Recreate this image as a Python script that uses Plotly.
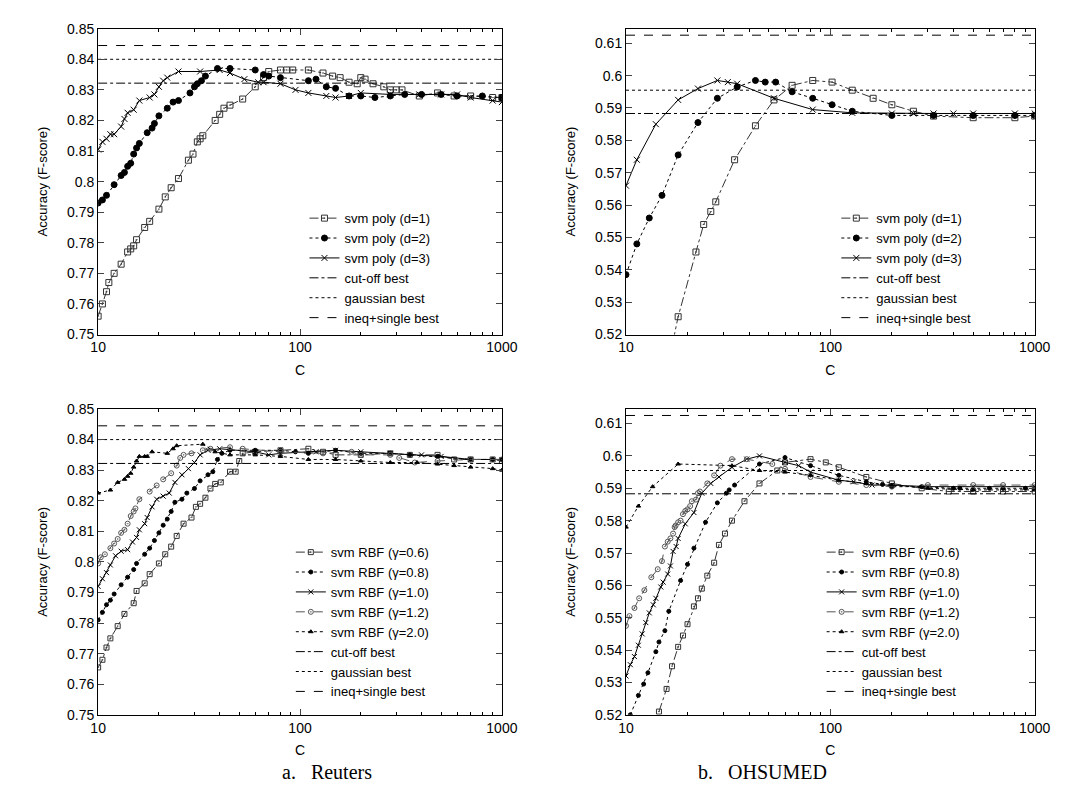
import plotly.graph_objects as go

# ---------- data: Reuters, polynomial kernel ----------
r_d1_c = [10, 10.5, 11, 11.3, 12, 13, 14, 14.5, 15, 15.5, 17, 18, 20, 21.5, 23, 25, 28, 29.5, 31, 32, 33, 38, 40, 42, 45, 52, 60, 66, 70, 80, 86, 92, 110, 130, 145, 158, 175, 192, 200, 210, 230, 260, 280, 300, 320, 390, 480, 580, 700, 900, 1000]
r_d1_f = [0.756, 0.760, 0.764, 0.767, 0.770, 0.773, 0.777, 0.778, 0.779, 0.781, 0.785, 0.787, 0.791, 0.795, 0.798, 0.801, 0.807, 0.809, 0.813, 0.814, 0.815, 0.820, 0.822, 0.824, 0.825, 0.827, 0.831, 0.834, 0.836, 0.8365, 0.8365, 0.8365, 0.8365, 0.8355, 0.8345, 0.834, 0.8325, 0.832, 0.834, 0.8335, 0.832, 0.831, 0.830, 0.830, 0.830, 0.828, 0.829, 0.828, 0.828, 0.8275, 0.8275]
r_d2_c = [10, 10.5, 11, 12, 13, 13.5, 14, 14.5, 15, 15.5, 16, 17.5, 18.5, 19, 20, 22, 23.5, 25, 28.5, 30, 31, 32.5, 34, 39, 45, 60, 66, 70, 80, 110, 120, 135, 150, 175, 200, 235, 280, 330, 400, 500, 600, 800, 1000]
r_d2_f = [0.793, 0.794, 0.7955, 0.799, 0.802, 0.803, 0.805, 0.806, 0.809, 0.811, 0.8125, 0.816, 0.8175, 0.819, 0.8215, 0.824, 0.826, 0.8265, 0.829, 0.831, 0.832, 0.833, 0.8345, 0.837, 0.837, 0.8365, 0.835, 0.8345, 0.834, 0.833, 0.8335, 0.831, 0.8305, 0.828, 0.828, 0.8275, 0.828, 0.8285, 0.8285, 0.8285, 0.828, 0.828, 0.8275]
r_d3_c = [10, 10.5, 11, 11.5, 12, 13, 13.5, 14, 15, 16, 18, 19, 20, 21, 22, 25, 32, 40, 45, 53, 62, 66, 80, 95, 110, 135, 150, 175, 200, 280, 390, 500, 600, 700, 900, 1000]
r_d3_f = [0.8105, 0.813, 0.814, 0.8155, 0.8155, 0.818, 0.8205, 0.8225, 0.8235, 0.8265, 0.8275, 0.8285, 0.831, 0.833, 0.834, 0.836, 0.836, 0.8365, 0.8355, 0.8335, 0.8325, 0.8325, 0.832, 0.830, 0.829, 0.828, 0.8275, 0.828, 0.829, 0.8285, 0.8285, 0.8285, 0.8285, 0.8275, 0.8265, 0.826]

# ---------- data: OHSUMED, polynomial kernel ----------
o_d1_c = [17, 18, 22, 24, 26, 27.5, 34, 43, 53, 65, 82, 102, 128, 162, 200, 255, 320, 500, 800, 1000]
o_d1_f = [0.518, 0.5255, 0.5455, 0.554, 0.558, 0.561, 0.574, 0.5845, 0.5925, 0.597, 0.5985, 0.598, 0.5955, 0.593, 0.591, 0.589, 0.5875, 0.587, 0.587, 0.5875]
o_d2_c = [10, 11.3, 13, 15, 18, 22.5, 28, 35, 43, 48, 54, 65, 82, 102, 128, 200, 320, 500, 800, 1000]
o_d2_f = [0.5385, 0.548, 0.556, 0.563, 0.5755, 0.5855, 0.593, 0.5965, 0.5985, 0.598, 0.598, 0.595, 0.593, 0.591, 0.589, 0.5877, 0.5877, 0.5877, 0.5877, 0.5877]
o_d3_c = [10, 11.3, 14, 18, 22.5, 28, 31.5, 35, 53, 82, 128, 200, 255, 320, 400, 500, 800, 1000]
o_d3_f = [0.566, 0.574, 0.585, 0.5925, 0.596, 0.5985, 0.598, 0.5975, 0.593, 0.5895, 0.5885, 0.5883, 0.5883, 0.5883, 0.5883, 0.5883, 0.5883, 0.5883]

# ---------- data: Reuters, RBF kernel ----------
r_g06_c = [10, 10.5, 11, 11.5, 12.5, 13.5, 15, 15.5, 17, 18, 20, 21.5, 23, 24.5, 26.5, 29, 30.5, 32, 34, 36, 38, 40.5, 45, 48, 50, 52, 60, 80, 110, 130, 150, 200, 280, 350, 480, 580, 700, 900, 1000]
r_g06_f = [0.7655, 0.768, 0.772, 0.775, 0.779, 0.783, 0.7865, 0.7905, 0.793, 0.796, 0.7995, 0.8025, 0.805, 0.8085, 0.8125, 0.8145, 0.818, 0.819, 0.821, 0.824, 0.8255, 0.826, 0.8295, 0.8295, 0.833, 0.8355, 0.836, 0.8365, 0.837, 0.836, 0.835, 0.835, 0.8355, 0.835, 0.835, 0.8335, 0.8335, 0.8335, 0.833]
r_g08_c = [10, 10.5, 11, 11.5, 12, 13, 14, 15, 15.5, 17, 18, 19, 20, 21, 22, 23, 24, 26, 27.5, 30, 32, 35, 37, 39, 41, 45, 60, 80, 95, 110, 150, 200, 280, 350, 480, 700, 900, 1000]
r_g08_f = [0.781, 0.7835, 0.786, 0.7875, 0.7895, 0.7925, 0.795, 0.7975, 0.7995, 0.8025, 0.8045, 0.807, 0.8095, 0.812, 0.814, 0.8165, 0.8195, 0.8205, 0.8225, 0.824, 0.8265, 0.8285, 0.8295, 0.8335, 0.8355, 0.8365, 0.8365, 0.8365, 0.836, 0.8355, 0.8365, 0.8355, 0.8355, 0.835, 0.8345, 0.8335, 0.8335, 0.8335]
r_g10_c = [10, 10.5, 11, 11.5, 12.2, 13, 14, 14.8, 15.5, 16, 17, 17.5, 18.5, 19.5, 21, 22.5, 24, 26, 28, 30, 32, 35, 40, 60, 70, 80, 120, 150, 200, 280, 400, 500, 700, 1000]
r_g10_f = [0.792, 0.7945, 0.7965, 0.799, 0.802, 0.8035, 0.804, 0.8065, 0.808, 0.8105, 0.8125, 0.8145, 0.818, 0.8205, 0.8215, 0.8225, 0.826, 0.8285, 0.8305, 0.8325, 0.835, 0.8365, 0.837, 0.836, 0.835, 0.8355, 0.836, 0.8365, 0.836, 0.8355, 0.835, 0.8345, 0.8335, 0.8335]
r_g12_c = [10, 10.3, 10.8, 11.5, 12, 12.5, 13, 13.5, 14, 14.5, 15, 15.3, 16, 18, 19.5, 21, 23, 24.5, 25.5, 26.5, 29, 33, 36, 45, 52, 80, 130, 180, 200, 280, 310, 370, 480, 700, 1000]
r_g12_f = [0.7995, 0.8015, 0.8025, 0.8045, 0.806, 0.8075, 0.8095, 0.8105, 0.8125, 0.815, 0.8165, 0.8175, 0.8205, 0.823, 0.825, 0.827, 0.829, 0.8315, 0.834, 0.835, 0.8355, 0.8365, 0.837, 0.8375, 0.837, 0.836, 0.8355, 0.836, 0.835, 0.835, 0.834, 0.8325, 0.833, 0.8335, 0.8335]
r_g20_c = [10, 11.5, 12.5, 13.5, 14, 14.5, 15, 15.5, 16, 17, 17.5, 18.5, 22, 23.5, 24.5, 33, 38, 45, 60, 80, 110, 150, 200, 280, 380, 480, 580, 700, 900, 1000]
r_g20_f = [0.8225, 0.8235, 0.826, 0.827, 0.828, 0.829, 0.831, 0.833, 0.8345, 0.8345, 0.8345, 0.836, 0.8355, 0.837, 0.838, 0.8385, 0.836, 0.835, 0.835, 0.8345, 0.8335, 0.8335, 0.833, 0.8325, 0.8325, 0.832, 0.8315, 0.831, 0.8305, 0.830]

# ---------- data: OHSUMED, RBF kernel ----------
o_g06_c = [14.5, 15.8, 16.8, 18, 19, 20, 21.5, 22.5, 23.5, 25, 27, 28.5, 30.5, 33, 38, 45, 55, 60, 80, 95, 110, 150, 200, 280, 380, 500, 700, 1000]
o_g06_f = [0.521, 0.528, 0.535, 0.541, 0.5445, 0.548, 0.5535, 0.556, 0.559, 0.563, 0.567, 0.5725, 0.576, 0.580, 0.586, 0.5915, 0.5955, 0.598, 0.599, 0.598, 0.5965, 0.5935, 0.5915, 0.590, 0.589, 0.589, 0.589, 0.589]
o_g08_c = [10.5, 11.5, 12.2, 12.8, 14, 14.5, 15.5, 16.2, 18.5, 20, 21.5, 24.5, 28, 31, 32, 34, 45, 60, 80, 110, 150, 180, 200, 280, 400, 430, 600, 700, 900, 1000]
o_g08_f = [0.52, 0.526, 0.5295, 0.533, 0.5395, 0.5425, 0.546, 0.552, 0.5615, 0.5665, 0.5715, 0.5795, 0.5855, 0.5885, 0.5895, 0.591, 0.5975, 0.5995, 0.597, 0.594, 0.592, 0.5912, 0.5905, 0.5905, 0.590, 0.590, 0.590, 0.590, 0.590, 0.590]
o_g10_c = [10, 10.5, 11, 11.5, 12, 12.5, 13, 13.6, 14, 14.8, 15.2, 16, 16.5, 17, 17.6, 18, 19.5, 21.5, 23.5, 26, 28.5, 33, 39, 45, 60, 70, 80, 110, 130, 160, 200, 300, 500, 700, 1000]
o_g10_f = [0.532, 0.5355, 0.538, 0.5415, 0.545, 0.5485, 0.5515, 0.554, 0.556, 0.5595, 0.561, 0.5635, 0.566, 0.5705, 0.572, 0.5745, 0.579, 0.5825, 0.5885, 0.5915, 0.5935, 0.5965, 0.599, 0.600, 0.598, 0.597, 0.595, 0.5925, 0.592, 0.591, 0.591, 0.5905, 0.5905, 0.5905, 0.5905]
o_g12_c = [10, 10.4, 11, 11.6, 12.3, 13.3, 14.3, 15, 15.5, 16, 16.5, 17, 17.3, 17.5, 18, 18.5, 19, 19.5, 20, 20.6, 21, 22, 22.5, 23, 25, 27, 29, 33, 39, 52, 60, 80, 110, 150, 200, 300, 500, 700, 1000]
o_g12_f = [0.5475, 0.5505, 0.553, 0.556, 0.5585, 0.5625, 0.565, 0.5675, 0.572, 0.5735, 0.5745, 0.576, 0.578, 0.5785, 0.5795, 0.580, 0.582, 0.583, 0.5835, 0.5845, 0.586, 0.5865, 0.5885, 0.589, 0.5915, 0.594, 0.597, 0.599, 0.599, 0.5975, 0.596, 0.5935, 0.592, 0.591, 0.5905, 0.591, 0.591, 0.591, 0.591]
o_g20_c = [10, 11.5, 13.5, 18, 33, 45, 60, 80, 110, 150, 200, 300, 500, 1000]
o_g20_f = [0.578, 0.5845, 0.5905, 0.5975, 0.597, 0.5955, 0.595, 0.594, 0.5925, 0.5915, 0.591, 0.590, 0.5895, 0.5895]

# reference lines: cut-off, gaussian, ineq+single
reuters_best = [0.8322, 0.8400, 0.8445]
ohsumed_best = [0.5883, 0.5955, 0.6125]
best_names = ["cut-off best", "gaussian best", "ineq+single best"]
best_dash = ["dashdot", "dot", "dash"]

c_range = [10, 1000]

FONT = "Liberation Sans, Arial, sans-serif"
fig = go.Figure()

panels = [
    # axis suffix, legend id, series list, best values
    ("", "legend", [
        ("svm poly (d=1)", r_d1_c, r_d1_f, "dashdot", "square-open-dot", 6, "#333"),
        ("svm poly (d=2)", r_d2_c, r_d2_f, "dot", "circle", 6, "#000"),
        ("svm poly (d=3)", r_d3_c, r_d3_f, "solid", "x-thin-open", 6, "#000"),
    ], reuters_best),
    ("2", "legend2", [
        ("svm poly (d=1)", o_d1_c, o_d1_f, "dashdot", "square-open-dot", 6, "#333"),
        ("svm poly (d=2)", o_d2_c, o_d2_f, "dot", "circle", 6, "#000"),
        ("svm poly (d=3)", o_d3_c, o_d3_f, "solid", "x-thin-open", 6, "#000"),
    ], ohsumed_best),
    ("3", "legend3", [
        ("svm RBF (γ=0.6)", r_g06_c, r_g06_f, "dashdot", "square-open-dot", 5, "#333"),
        ("svm RBF (γ=0.8)", r_g08_c, r_g08_f, "dot", "circle", 4, "#000"),
        ("svm RBF (γ=1.0)", r_g10_c, r_g10_f, "solid", "x-thin-open", 5, "#000"),
        ("svm RBF (γ=1.2)", r_g12_c, r_g12_f, "dash", "circle-open-dot", 5, "#555"),
        ("svm RBF (γ=2.0)", r_g20_c, r_g20_f, "dot", "triangle-up", 4, "#000"),
    ], reuters_best),
    ("4", "legend4", [
        ("svm RBF (γ=0.6)", o_g06_c, o_g06_f, "dashdot", "square-open-dot", 5, "#333"),
        ("svm RBF (γ=0.8)", o_g08_c, o_g08_f, "dot", "circle", 4, "#000"),
        ("svm RBF (γ=1.0)", o_g10_c, o_g10_f, "solid", "x-thin-open", 5, "#000"),
        ("svm RBF (γ=1.2)", o_g12_c, o_g12_f, "dash", "circle-open-dot", 5, "#555"),
        ("svm RBF (γ=2.0)", o_g20_c, o_g20_f, "dot", "triangle-up", 4, "#000"),
    ], ohsumed_best),
]

for ax, leg, series, best in panels:
    for name, cs, fs, dash, sym, size, col in series:
        fig.add_trace(go.Scatter(
            x=cs, y=fs, name=name, mode="lines+markers", legend=leg,
            xaxis="x" + ax, yaxis="y" + ax,
            line=dict(color=col, width=1, dash=dash),
            marker=dict(symbol=sym, size=size, color=col, line=dict(color=col, width=1)),
        ))
    for val, nm, dash in zip(best, best_names, best_dash):
        fig.add_trace(go.Scatter(
            x=c_range, y=[val, val], name=nm, mode="lines", legend=leg,
            xaxis="x" + ax, yaxis="y" + ax,
            line=dict(color="#000", width=1, dash=dash),
        ))

xdom = {"L": [0.0783, 0.4632], "R": [0.5815, 0.9711]}
ydom = {"T": [0.5963, 0.9839], "B": [0.1143, 0.5019]}
minor_vals = [k * 10 ** e for e in (1, 2) for k in range(2, 10)]

def xaxis(dom, anchor):
    return dict(
        type="log", range=[1, 3], domain=dom, anchor=anchor,
        tickvals=[10, 100, 1000], ticktext=["10", "100", "1000"],
        ticks="inside", ticklen=6, mirror="allticks", showline=True,
        linecolor="#000", linewidth=1, showgrid=False, zeroline=False,
        minor=dict(tickvals=minor_vals, ticks="inside", ticklen=3, tickcolor="#000"),
        title=dict(text="C", font=dict(size=14, family=FONT, color="#000"), standoff=10),
        tickfont=dict(size=14, family=FONT, color="#000"),
    )

def yaxis(dom, anchor, rng, vals):
    return dict(
        range=rng, domain=dom, anchor=anchor, tickvals=vals,
        ticktext=[("%g" % v) for v in vals],
        ticks="inside", ticklen=6, mirror="allticks", showline=True,
        linecolor="#000", linewidth=1, showgrid=False, zeroline=False,
        title=dict(text="Accuracy (F-score)", font=dict(size=13, family=FONT, color="#000"), standoff=16),
        tickfont=dict(size=14, family=FONT, color="#000"),
    )

r_ticks = [0.75, 0.76, 0.77, 0.78, 0.79, 0.80, 0.81, 0.82, 0.83, 0.84, 0.85]
o_ticks = [0.52, 0.53, 0.54, 0.55, 0.56, 0.57, 0.58, 0.59, 0.60, 0.61]

def legend(x, y):
    return dict(x=x, y=y, xanchor="left", yanchor="bottom", bgcolor="rgba(0,0,0,0)",
                font=dict(size=13, family=FONT, color="#000"), tracegroupgap=0,
                itemwidth=30)

fig.update_layout(
    width=1073, height=805, margin=dict(l=0, r=0, t=0, b=0),
    paper_bgcolor="white", plot_bgcolor="white", showlegend=True,
    font=dict(family=FONT, color="#000"),
    xaxis=xaxis(xdom["L"], "y"), yaxis=yaxis(ydom["T"], "x", [0.75, 0.85], r_ticks),
    xaxis2=xaxis(xdom["R"], "y2"), yaxis2=yaxis(ydom["T"], "x2", [0.52, 0.6145], o_ticks),
    xaxis3=xaxis(xdom["L"], "y3"), yaxis3=yaxis(ydom["B"], "x3", [0.75, 0.85], r_ticks),
    xaxis4=xaxis(xdom["R"], "y4"), yaxis4=yaxis(ydom["B"], "x4", [0.52, 0.6145], o_ticks),
    legend=legend(0.275, 0.598),
    legend2=legend(0.782, 0.598),
    legend3=legend(0.262, 0.124),
    legend4=legend(0.768, 0.124),
    annotations=[
        dict(text="a.   Reuters", x=0.252, y=0.025, xref="paper", yref="paper",
             showarrow=False, font=dict(size=20, color="#000", family="Liberation Serif, Times New Roman, serif")),
        dict(text="b.   OHSUMED", x=0.775, y=0.025, xref="paper", yref="paper",
             showarrow=False, font=dict(size=20, color="#000", family="Liberation Serif, Times New Roman, serif")),
    ],
)

fig.write_html("out.html")
